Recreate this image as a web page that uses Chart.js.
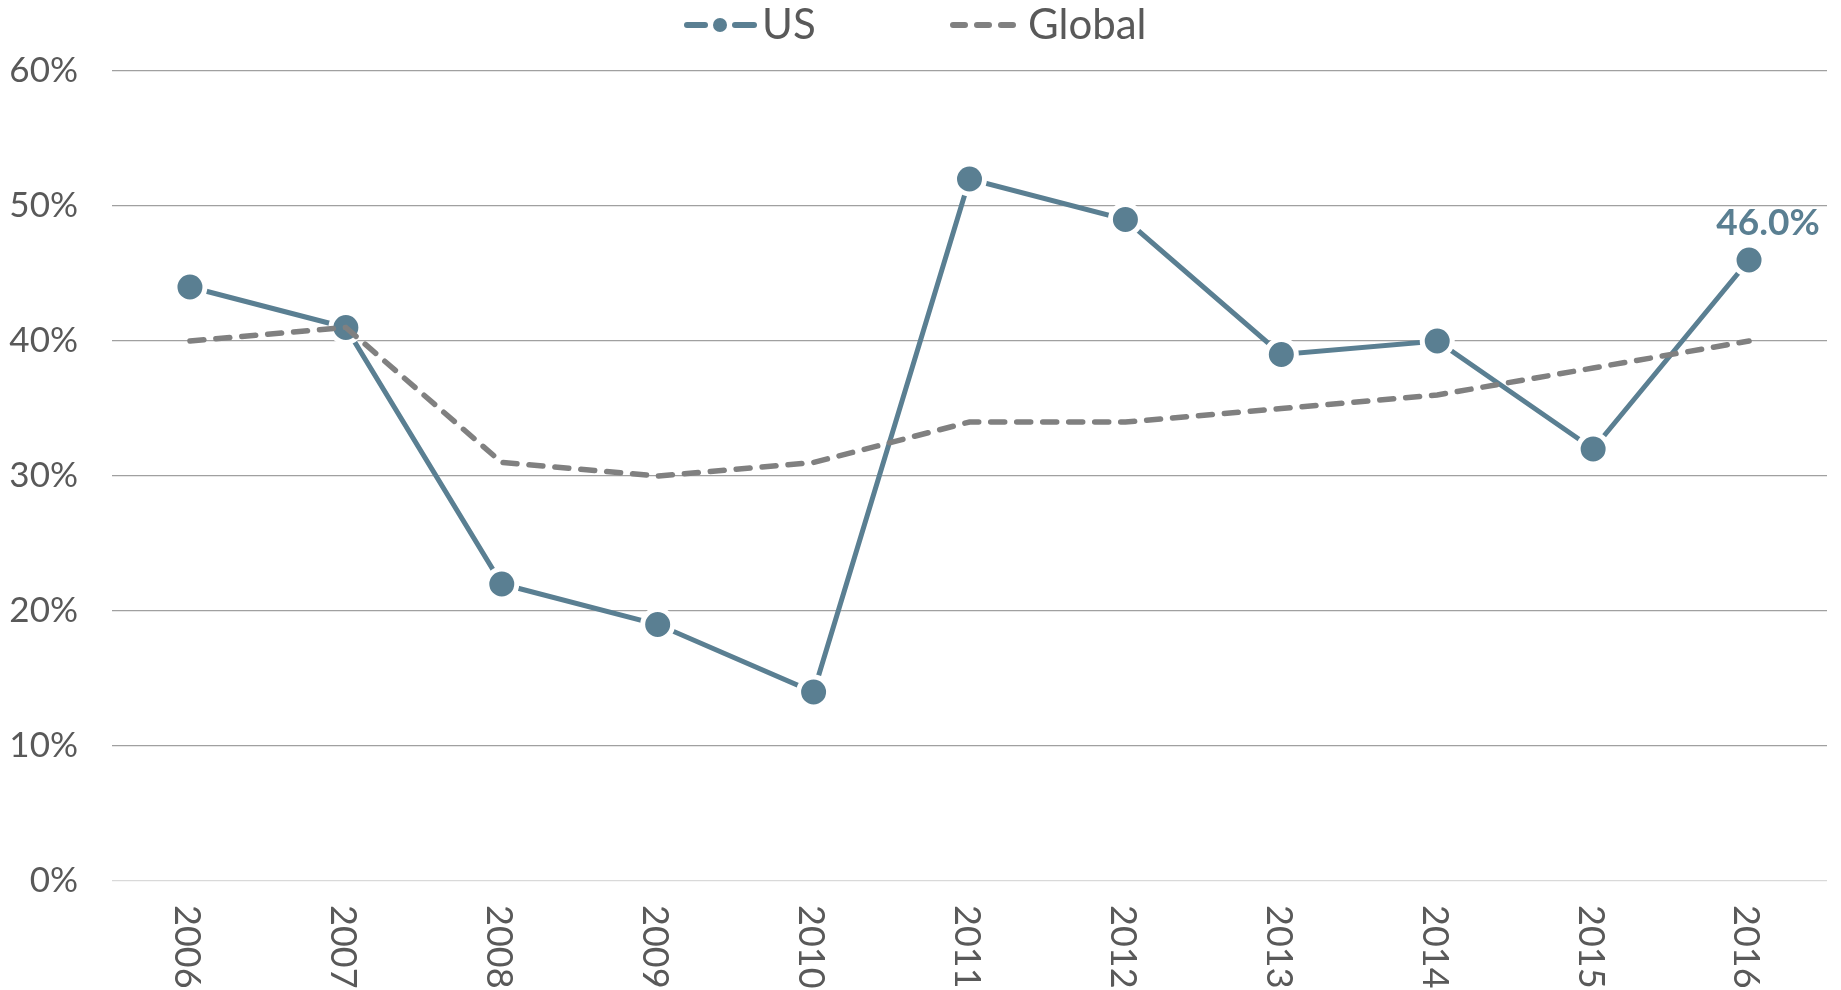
<!DOCTYPE html>
<html>
<head>
<meta charset="utf-8">
<script src="https://cdn.jsdelivr.net/npm/chart.js@4"></script>
<style>
  html, body { margin: 0; padding: 0; background: #fff; }
  canvas { display: block; }
</style>
</head>
<body>
<canvas id="chart" width="1841" height="990"></canvas>
<script>
// data
var years = ['2006', '2007', '2008', '2009', '2010', '2011', '2012', '2013', '2014', '2015', '2016'];
var usValues = [44, 41, 22, 19, 14, 52, 49, 39, 40, 32, 46];
var globalValues = [40, 41, 31, 30, 31, 34, 34, 35, 36, 38, 40];
var yTicks = [0, 10, 20, 30, 40, 50, 60];

var US_COLOR = '#5a7f92';
var GLOBAL_COLOR = '#808080';
var TEXT_COLOR = '#595959';
var FONT = 'Lato, "Noto Sans", sans-serif';

// legend, x labels and the last-point label
var extras = {
  id: 'extras',
  afterDraw: function (chart) {
    var ctx = chart.ctx;
    var xs = chart.scales.x;
    var area = chart.chartArea;

    // rotated year labels (clockwise, read top to bottom)
    ctx.save();
    ctx.fillStyle = TEXT_COLOR;
    ctx.font = '36px ' + FONT;
    ctx.textAlign = 'left';
    ctx.textBaseline = 'middle';
    for (var i = 0; i < years.length; i++) {
      var px = xs.getPixelForTick(i);
      ctx.save();
      ctx.translate(px - 3, area.bottom + 24);
      ctx.rotate(Math.PI / 2);
      ctx.fillText(years[i], 0, 0);
      ctx.restore();
    }
    ctx.restore();

    // label on last US point
    var meta = chart.getDatasetMeta(0);
    var last = meta.data[meta.data.length - 1];
    ctx.save();
    ctx.fillStyle = US_COLOR;
    ctx.font = 'bold 37px ' + FONT;
    ctx.textAlign = 'center';
    ctx.textBaseline = 'middle';
    ctx.fillText(usValues[usValues.length - 1].toFixed(1) + '%', last.x + 19, last.y - 37);
    ctx.restore();

    // legend
    var ly = 25;
    ctx.save();
    ctx.lineWidth = 6;
    ctx.lineCap = 'round';
    ctx.strokeStyle = US_COLOR;
    ctx.beginPath(); ctx.moveTo(687, ly); ctx.lineTo(705, ly); ctx.stroke();
    ctx.beginPath(); ctx.moveTo(735, ly); ctx.lineTo(754, ly); ctx.stroke();
    ctx.fillStyle = US_COLOR;
    ctx.beginPath(); ctx.arc(720, ly, 7, 0, Math.PI * 2); ctx.fill();

    ctx.strokeStyle = GLOBAL_COLOR;
    ctx.setLineDash([12, 12]);
    ctx.beginPath(); ctx.moveTo(953, ly); ctx.lineTo(1014, ly); ctx.stroke();
    ctx.setLineDash([]);

    ctx.fillStyle = TEXT_COLOR;
    ctx.font = '42px ' + FONT;
    ctx.textAlign = 'left';
    ctx.textBaseline = 'middle';
    ctx.fillText('US', 762, ly);
    ctx.fillText('Global', 1028, ly);
    ctx.restore();
  }
};

var ctx = document.getElementById('chart').getContext('2d');
var chart = new Chart(ctx, {
  type: 'line',
  data: {
    labels: years,
    datasets: [
      {
        label: 'US',
        data: usValues,
        order: 1,
        borderColor: US_COLOR,
        backgroundColor: US_COLOR,
        borderWidth: 5,
        pointRadius: 15,
        pointHoverRadius: 15,
        pointBackgroundColor: US_COLOR,
        pointBorderColor: '#ffffff',
        pointBorderWidth: 5,
        tension: 0,
        clip: false
      },
      {
        label: 'Global',
        data: globalValues,
        order: 0,
        borderColor: GLOBAL_COLOR,
        backgroundColor: GLOBAL_COLOR,
        borderWidth: 5.5,
        borderDash: [14, 12],
        borderCapStyle: 'round',
        pointRadius: 0,
        pointHoverRadius: 0,
        tension: 0,
        clip: false
      }
    ]
  },
  options: {
    responsive: false,
    animation: false,
    devicePixelRatio: 1,
    layout: { autoPadding: false, padding: { top: 71, bottom: 101, left: 0, right: 14 } },
    plugins: {
      legend: { display: false },
      tooltip: { enabled: false }
    },
    scales: {
      x: {
        offset: true,
        grid: { display: false },
        border: { display: false },
        ticks: { display: false }
      },
      y: {
        min: 0,
        max: 60,
        afterFit: function (scale) { scale.width = 112; },
        afterBuildTicks: function (scale) {
          scale.ticks = yTicks.map(function (v) { return { value: v }; });
        },
        border: { display: false },
        grid: {
          drawTicks: false,
          lineWidth: 1.2,
          color: function (c) { return c.tick && c.tick.value === 0 ? '#d9d9d9' : '#a0a0a0'; }
        },
        ticks: {
          padding: 34,
          color: TEXT_COLOR,
          font: { family: FONT, size: 35 },
          callback: function (v) { return v + '%'; }
        }
      }
    }
  },
  plugins: [extras]
});
</script>
</body>
</html>
